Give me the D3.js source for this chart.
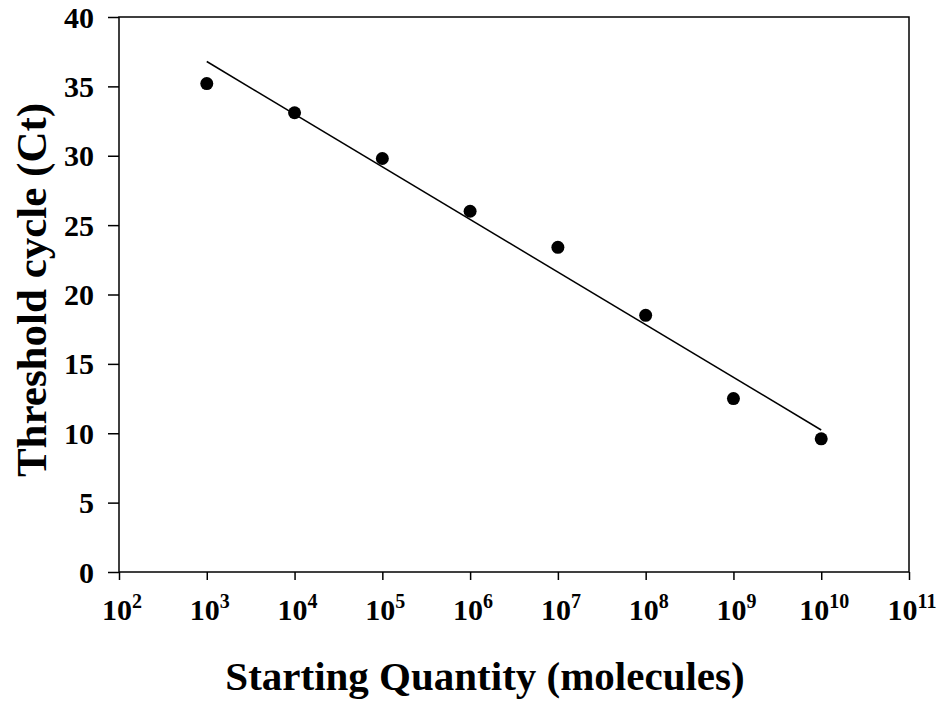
<!DOCTYPE html>
<meta charset="utf-8">
<script src="https://d3js.org/d3.v7.min.js"></script>
<style>
  body { margin: 0; background: #fff; }
  text { font-family: "Liberation Serif", "Times New Roman", serif; font-weight: bold; fill: #000; }
</style>
<div id="my_dataviz"></div>
<script>

// data
var quantities = [1e3, 1e4, 1e5, 1e6, 1e7, 1e8, 1e9, 1e10];
var ctValues = [35.2, 33.1, 29.8, 26.0, 23.4, 18.5, 12.5, 9.6];
var xTickExponents = [2, 3, 4, 5, 6, 7, 8, 9, 10, 11];
var yTicks = [0, 5, 10, 15, 20, 25, 30, 35, 40];

var margin = {top: 17, right: 28, bottom: 133, left: 119},
    width = 937 - margin.left - margin.right,
    height = 705 - margin.top - margin.bottom;

var svg = d3.select("#my_dataviz")
  .append("svg")
    .attr("width", 937)
    .attr("height", 705)
  .append("g")
    .attr("transform", "translate(" + margin.left + "," + margin.top + ")");

var x = d3.scaleLog()
    .domain([1e2, 1e11])
    .range([0, width]);

var y = d3.scaleLinear()
    .domain([0, 40])
    .range([height, 0]);

// frame
svg.append("rect")
    .attr("x", 0).attr("y", 0)
    .attr("width", width).attr("height", height)
    .style("fill", "none")
    .style("stroke", "#000")
    .style("stroke-width", 1.5);

// Y axis (ticks from d3, labels drawn by hand so the font sticks)
var yAxis = svg.append("g")
    .call(d3.axisLeft(y).tickValues(yTicks).tickSize(11).tickFormat(""));
yAxis.select(".domain").remove();
yAxis.selectAll("line").style("stroke-width", 1.5);

svg.selectAll(".ylab")
    .data(yTicks)
    .enter()
    .append("text")
      .attr("class", "ylab")
      .attr("x", -25)
      .attr("y", function(d) { return y(d); })
      .attr("dy", "0.35em")
      .attr("font-size", 30)
      .style("text-anchor", "end")
      .text(function(d) { return d; });

// X axis with superscript labels
var xAxis = svg.append("g")
    .attr("transform", "translate(0," + height + ")")
    .call(d3.axisBottom(x).tickValues(xTickExponents.map(function(e) { return Math.pow(10, e); })).tickSize(8).tickFormat(""));
xAxis.select(".domain").remove();
xAxis.selectAll("line").style("stroke-width", 1.5);

svg.selectAll(".xlab")
    .data(xTickExponents)
    .enter()
    .append("text")
      .attr("class", "xlab")
      .attr("x", function(d) { return x(Math.pow(10, d)) + 3; })
      .attr("y", height + 48)
      .attr("font-size", 30)
      .style("text-anchor", "middle")
      .each(function(d) {
        var t = d3.select(this);
        t.append("tspan").text("10");
        t.append("tspan").attr("dy", "-12").attr("font-size", 20).text(d);
      });

// regression line (least squares on log10 of quantity)
var lx = quantities.map(function(q) { return Math.log10(q); });
var mx = d3.mean(lx), my = d3.mean(ctValues);
var sxy = d3.sum(lx, function(v, i) { return (v - mx) * (ctValues[i] - my); });
var sxx = d3.sum(lx, function(v) { return (v - mx) * (v - mx); });
var slope = sxy / sxx, intercept = my - slope * mx;
var ends = [quantities[0], quantities[quantities.length - 1]];

svg.append("line")
    .attr("x1", x(ends[0]))
    .attr("y1", y(intercept + slope * Math.log10(ends[0])))
    .attr("x2", x(ends[1]))
    .attr("y2", y(intercept + slope * Math.log10(ends[1])))
    .style("stroke", "#000")
    .style("stroke-width", 1.5);

// points
svg.selectAll("circle")
    .data(quantities)
    .enter()
    .append("circle")
      .attr("cx", function(d) { return x(d); })
      .attr("cy", function(d, i) { return y(ctValues[i]); })
      .attr("r", 6.5)
      .style("fill", "#000");

// axis titles
svg.append("text")
    .attr("x", 485 - margin.left)
    .attr("y", 690 - margin.top)
    .attr("font-size", 41)
    .style("text-anchor", "middle")
    .text("Starting Quantity (molecules)");

svg.append("text")
    .attr("transform", "rotate(-90)")
    .attr("x", -(290 - margin.top))
    .attr("y", 46 - margin.left)
    .attr("font-size", 43)
    .style("text-anchor", "middle")
    .text("Threshold cycle (Ct)");

</script>
